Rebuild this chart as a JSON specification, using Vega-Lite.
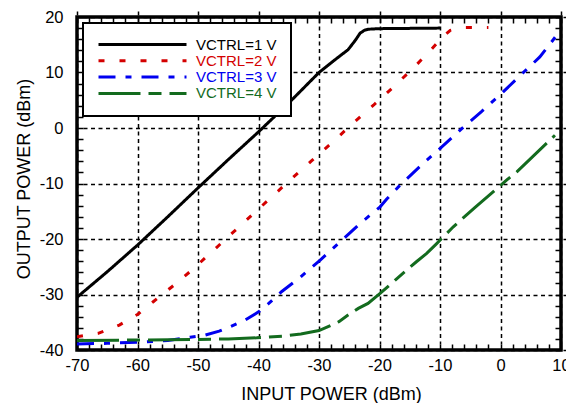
{
  "$schema": "https://vega.github.io/schema/vega-lite/v6.json",
  "width": 484,
  "height": 333,
  "autosize": {"type": "none"},
  "padding": {"left": 77, "top": 17, "right": 5, "bottom": 53},
  "background": "white",
  "config": {
    "font": "Liberation Sans",
    "view": {"stroke": "black", "strokeWidth": 3.5},
    "axis": {
      "domain": false,
      "labelFont": "Liberation Sans",
      "labelFontSize": 16.5,
      "labelColor": "black",
      "titleFont": "Liberation Sans",
      "titleFontSize": 18,
      "titleFontWeight": "normal",
      "titleColor": "black",
      "ticks": true,
      "tickColor": "black",
      "tickWidth": 1.5,
      "tickSize": 6,
      "offset": -6,
      "gridColor": "black",
      "gridDash": [4, 3.5],
      "gridWidth": 1.5,
      "labelOverlap": false,
      "labelFlush": false,
      "labelBound": false
    },
    "legend": {
      "orient": "none",
      "legendX": 6,
      "legendY": 6,
      "symbolType": "stroke",
      "symbolSize": 7744,
      "symbolStrokeWidth": 3,
      "labelFont": "Liberation Sans",
      "labelFontSize": 15,
      "labelColor": "black",
      "labelOffset": 8,
      "clipHeight": 15,
      "rowPadding": 0.3,
      "padding": 14,
      "fillColor": "white",
      "strokeColor": "black",
      "strokeWidth": 2
    }
  },
  "data": {
    "values": [
      {"s": "VCTRL=1 V", "x": -70, "y": -30.5},
      {"s": "VCTRL=1 V", "x": -65, "y": -25.9},
      {"s": "VCTRL=1 V", "x": -60, "y": -21.1},
      {"s": "VCTRL=1 V", "x": -55, "y": -16},
      {"s": "VCTRL=1 V", "x": -50, "y": -10.8},
      {"s": "VCTRL=1 V", "x": -45, "y": -5.7},
      {"s": "VCTRL=1 V", "x": -40, "y": -0.7},
      {"s": "VCTRL=1 V", "x": -35, "y": 4.5},
      {"s": "VCTRL=1 V", "x": -30, "y": 10},
      {"s": "VCTRL=1 V", "x": -27, "y": 12.6},
      {"s": "VCTRL=1 V", "x": -25.2, "y": 14.1},
      {"s": "VCTRL=1 V", "x": -24, "y": 15.8},
      {"s": "VCTRL=1 V", "x": -23.2, "y": 17.1},
      {"s": "VCTRL=1 V", "x": -22.5, "y": 17.6},
      {"s": "VCTRL=1 V", "x": -21.8, "y": 17.8},
      {"s": "VCTRL=1 V", "x": -20, "y": 17.9},
      {"s": "VCTRL=1 V", "x": -10, "y": 18},
      {"s": "VCTRL=2 V", "x": -70, "y": -37.6},
      {"s": "VCTRL=2 V", "x": -66.5, "y": -37},
      {"s": "VCTRL=2 V", "x": -63, "y": -35.5},
      {"s": "VCTRL=2 V", "x": -60, "y": -33.6},
      {"s": "VCTRL=2 V", "x": -57.4, "y": -31.3},
      {"s": "VCTRL=2 V", "x": -54.3, "y": -28.6},
      {"s": "VCTRL=2 V", "x": -50.9, "y": -25.5},
      {"s": "VCTRL=2 V", "x": -47.9, "y": -22.5},
      {"s": "VCTRL=2 V", "x": -44.4, "y": -19},
      {"s": "VCTRL=2 V", "x": -41.1, "y": -15.7},
      {"s": "VCTRL=2 V", "x": -37.8, "y": -12.4},
      {"s": "VCTRL=2 V", "x": -34.2, "y": -8.8},
      {"s": "VCTRL=2 V", "x": -31.2, "y": -5.9},
      {"s": "VCTRL=2 V", "x": -27.7, "y": -2.5},
      {"s": "VCTRL=2 V", "x": -24.4, "y": 0.85},
      {"s": "VCTRL=2 V", "x": -21, "y": 4.1},
      {"s": "VCTRL=2 V", "x": -17.8, "y": 7.3},
      {"s": "VCTRL=2 V", "x": -14.4, "y": 10.8},
      {"s": "VCTRL=2 V", "x": -11.4, "y": 14.2},
      {"s": "VCTRL=2 V", "x": -9.5, "y": 16.5},
      {"s": "VCTRL=2 V", "x": -8.3, "y": 17.6},
      {"s": "VCTRL=2 V", "x": -6.5, "y": 18.1},
      {"s": "VCTRL=2 V", "x": -2, "y": 18.1},
      {"s": "VCTRL=3 V", "x": -70, "y": -38.9},
      {"s": "VCTRL=3 V", "x": -65, "y": -38.8},
      {"s": "VCTRL=3 V", "x": -60, "y": -38.6},
      {"s": "VCTRL=3 V", "x": -55, "y": -38.3},
      {"s": "VCTRL=3 V", "x": -51.3, "y": -37.7},
      {"s": "VCTRL=3 V", "x": -48.8, "y": -37.3},
      {"s": "VCTRL=3 V", "x": -46.5, "y": -36.6},
      {"s": "VCTRL=3 V", "x": -44.7, "y": -35.8},
      {"s": "VCTRL=3 V", "x": -42.2, "y": -34.6},
      {"s": "VCTRL=3 V", "x": -39.8, "y": -33},
      {"s": "VCTRL=3 V", "x": -38.4, "y": -31.7},
      {"s": "VCTRL=3 V", "x": -36.2, "y": -29.5},
      {"s": "VCTRL=3 V", "x": -33.1, "y": -26.9},
      {"s": "VCTRL=3 V", "x": -29.8, "y": -23.8},
      {"s": "VCTRL=3 V", "x": -26.5, "y": -20.5},
      {"s": "VCTRL=3 V", "x": -23.2, "y": -17.2},
      {"s": "VCTRL=3 V", "x": -19.9, "y": -14.2},
      {"s": "VCTRL=3 V", "x": -18.8, "y": -12.8},
      {"s": "VCTRL=3 V", "x": -16.6, "y": -10.3},
      {"s": "VCTRL=3 V", "x": -13, "y": -6.6},
      {"s": "VCTRL=3 V", "x": -9.7, "y": -3.4},
      {"s": "VCTRL=3 V", "x": -6.4, "y": -0.1},
      {"s": "VCTRL=3 V", "x": -3.1, "y": 3},
      {"s": "VCTRL=3 V", "x": 0.2, "y": 6.25},
      {"s": "VCTRL=3 V", "x": 3.2, "y": 9.4},
      {"s": "VCTRL=3 V", "x": 6.5, "y": 12.8},
      {"s": "VCTRL=3 V", "x": 9, "y": 16.3},
      {"s": "VCTRL=3 V", "x": 9.6, "y": 17.2},
      {"s": "VCTRL=4 V", "x": -70, "y": -38.3},
      {"s": "VCTRL=4 V", "x": -60, "y": -38.2},
      {"s": "VCTRL=4 V", "x": -50, "y": -38.1},
      {"s": "VCTRL=4 V", "x": -45, "y": -38},
      {"s": "VCTRL=4 V", "x": -40.3, "y": -37.8},
      {"s": "VCTRL=4 V", "x": -36, "y": -37.5},
      {"s": "VCTRL=4 V", "x": -33, "y": -37.1},
      {"s": "VCTRL=4 V", "x": -30, "y": -36.5},
      {"s": "VCTRL=4 V", "x": -26.7, "y": -34.9},
      {"s": "VCTRL=4 V", "x": -25.2, "y": -33.7},
      {"s": "VCTRL=4 V", "x": -23.5, "y": -32.5},
      {"s": "VCTRL=4 V", "x": -21.9, "y": -31.6},
      {"s": "VCTRL=4 V", "x": -19.9, "y": -29.8},
      {"s": "VCTRL=4 V", "x": -17.4, "y": -27.4},
      {"s": "VCTRL=4 V", "x": -13.9, "y": -24.1},
      {"s": "VCTRL=4 V", "x": -12.2, "y": -22.6},
      {"s": "VCTRL=4 V", "x": -10.8, "y": -21.1},
      {"s": "VCTRL=4 V", "x": -7.8, "y": -17.8},
      {"s": "VCTRL=4 V", "x": -4.2, "y": -14.3},
      {"s": "VCTRL=4 V", "x": -0.9, "y": -11.2},
      {"s": "VCTRL=4 V", "x": 1, "y": -9.4},
      {"s": "VCTRL=4 V", "x": 2.7, "y": -7.9},
      {"s": "VCTRL=4 V", "x": 9, "y": -1.3}
    ]
  },
  "layer": [
    {
      "mark": {"type": "line", "strokeWidth": 3, "clip": true, "strokeCap": "butt"},
      "encoding": {
        "x": {
          "field": "x",
          "type": "quantitative",
          "scale": {"domain": [-70, 10], "nice": false, "zero": false},
          "axis": {
            "orient": "bottom",
            "values": [-70,-68,-66,-64,-62,-60,-58,-56,-54,-52,-50,-48,-46,-44,-42,-40,-38,-36,-34,-32,-30,-28,-26,-24,-22,-20,-18,-16,-14,-12,-10,-8,-6,-4,-2,0,2,4,6,8,10],
            "labelExpr": "datum.value % 10 === 0 ? '' + datum.value : ''",
            "labelPadding": 7,
            "grid": true,
            "gridOpacity": {"condition": {"test": "datum.value % 10 === 0", "value": 1}, "value": 0},
            "title": "INPUT POWER (dBm)",
            "titleX": 254,
            "titleY": 55,
            "titleAlign": "center",
            "titleBaseline": "alphabetic"
          }
        },
        "y": {
          "field": "y",
          "type": "quantitative",
          "scale": {"domain": [-40, 20], "nice": false, "zero": false},
          "axis": {
            "orient": "left",
            "values": [-40,-38,-36,-34,-32,-30,-28,-26,-24,-22,-20,-18,-16,-14,-12,-10,-8,-6,-4,-2,0,2,4,6,8,10,12,14,16,18,20],
            "labelExpr": "datum.value % 10 === 0 ? '' + datum.value : ''",
            "labelPadding": 14,
            "grid": true,
            "gridOpacity": {"condition": {"test": "datum.value % 10 === 0", "value": 1}, "value": 0},
            "title": "OUTPUT POWER (dBm)",
            "titleX": -54,
            "titleY": 161.5,
            "titleAngle": 270,
            "titleAlign": "center",
            "titleBaseline": "alphabetic"
          }
        },
        "color": {
          "field": "s",
          "type": "nominal",
          "scale": {
            "domain": ["VCTRL=1 V", "VCTRL=2 V", "VCTRL=3 V", "VCTRL=4 V"],
            "range": ["#000000", "#d40000", "#0000f0", "#136b1e"]
          },
          "legend": {
            "title": null,
            "encoding": {
              "labels": {
                "fill": {
                  "condition": [
                    {"test": "datum.value === 'VCTRL=2 V'", "value": "#d40000"},
                    {"test": "datum.value === 'VCTRL=3 V'", "value": "#0000f0"},
                    {"test": "datum.value === 'VCTRL=4 V'", "value": "#136b1e"}
                  ],
                  "value": "#000000"
                }
              }
            }
          }
        },
        "strokeDash": {
          "field": "s",
          "type": "nominal",
          "scale": {
            "domain": ["VCTRL=1 V", "VCTRL=2 V", "VCTRL=3 V", "VCTRL=4 V"],
            "range": [[1, 0], [6, 15], [17, 10, 6, 10], [42, 8, 13, 8]]
          },
          "legend": {"title": null}
        }
      }
    },
    {
      "mark": {"type": "point", "opacity": 0},
      "encoding": {
        "x": {
          "field": "x",
          "type": "quantitative",
          "scale": {"domain": [-70, 10], "nice": false, "zero": false},
          "axis": {
            "orient": "top",
            "values": [-70,-68,-66,-64,-62,-60,-58,-56,-54,-52,-50,-48,-46,-44,-42,-40,-38,-36,-34,-32,-30,-28,-26,-24,-22,-20,-18,-16,-14,-12,-10,-8,-6,-4,-2,0,2,4,6,8,10],
            "labels": false,
            "grid": false,
            "title": null
          }
        },
        "y": {
          "field": "y",
          "type": "quantitative",
          "scale": {"domain": [-40, 20], "nice": false, "zero": false},
          "axis": {
            "orient": "right",
            "values": [-40,-38,-36,-34,-32,-30,-28,-26,-24,-22,-20,-18,-16,-14,-12,-10,-8,-6,-4,-2,0,2,4,6,8,10,12,14,16,18,20],
            "labels": false,
            "grid": false,
            "title": null
          }
        }
      }
    }
  ],
  "resolve": {"axis": {"x": "independent", "y": "independent"}}
}
